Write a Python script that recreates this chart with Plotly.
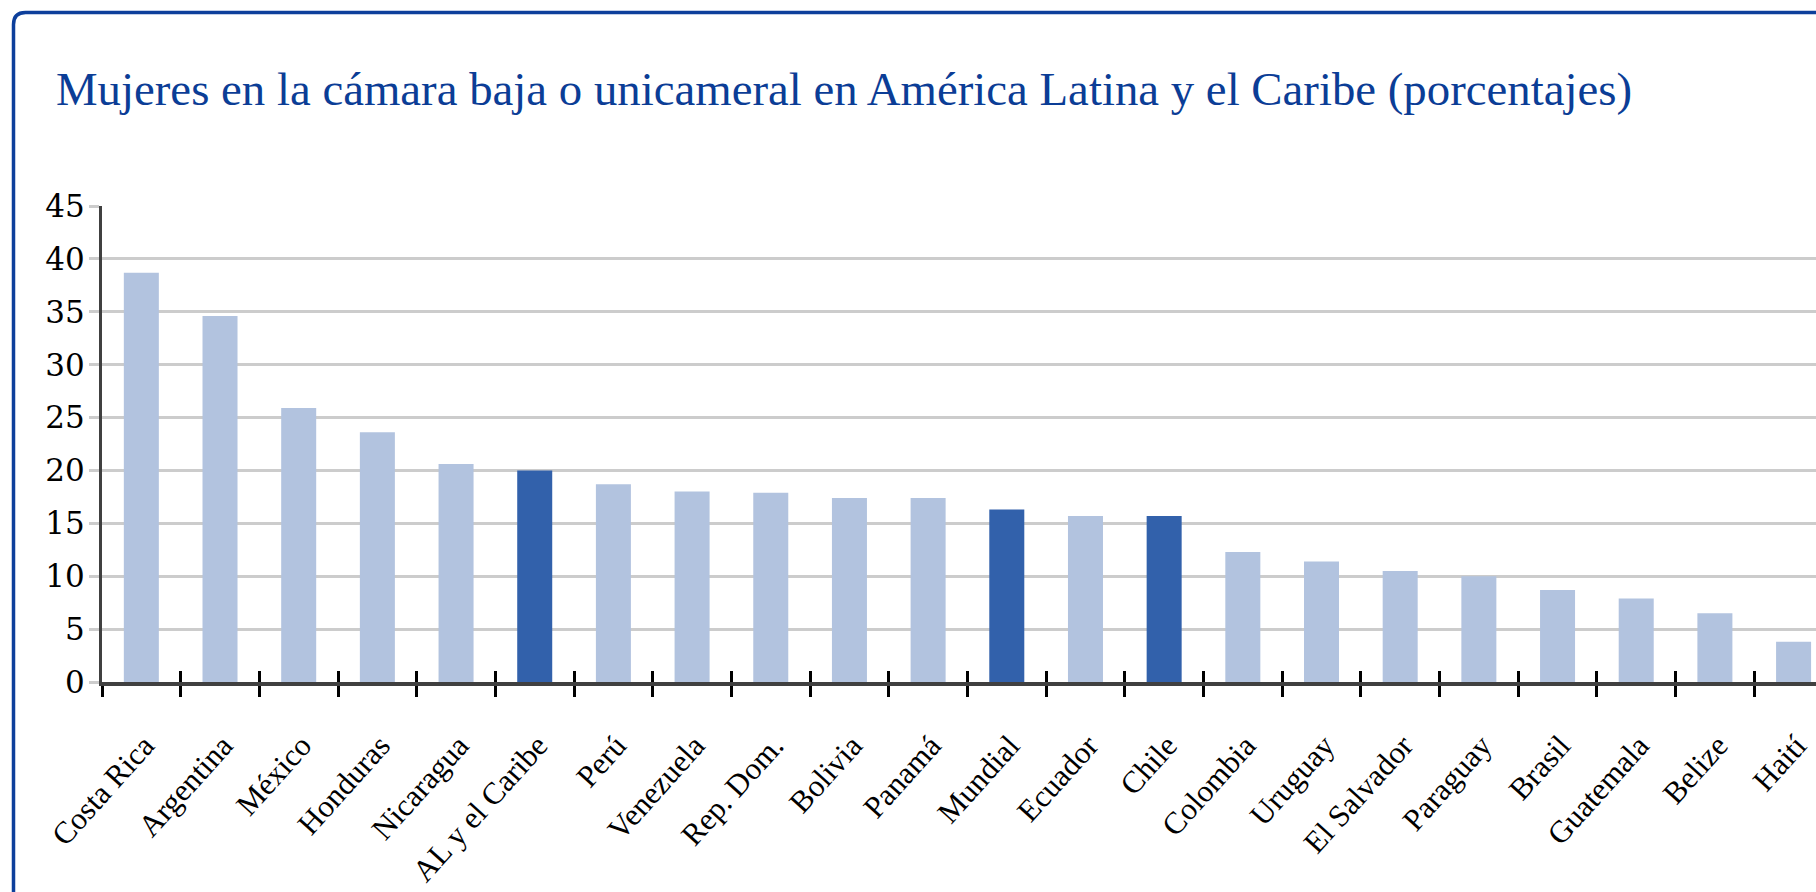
import plotly.graph_objects as go

categories = ["Costa Rica", "Argentina", "México", "Honduras", "Nicaragua", "AL y el Caribe",
              "Perú", "Venezuela", "Rep. Dom.", "Bolivia", "Panamá", "Mundial", "Ecuador",
              "Chile", "Colombia", "Uruguay", "El Salvador", "Paraguay", "Brasil",
              "Guatemala", "Belize", "Haití"]
values = [38.7, 34.6, 25.9, 23.6, 20.6, 20.0, 18.7, 18.0, 17.9, 17.4, 17.4, 16.3, 15.7,
          15.7, 12.3, 11.4, 10.5, 10.0, 8.7, 7.9, 6.5, 3.8]
highlight = ["AL y el Caribe", "Mundial", "Chile"]
y_ticks = [0, 5, 10, 15, 20, 25, 30, 35, 40, 45]
title_text = "Mujeres en la cámara baja o unicameral en América Latina y el Caribe (porcentajes)"

LIGHT = "#b2c3df"
DARK = "#3261ab"
colors = [DARK if c in highlight else LIGHT for c in categories]

W, H = 1816, 892
L, R, T, B = 102, 0, 206, 210
PW, PH = W - L - R, H - T - B

def px_x(p):
    return (p - L) / PW

def px_y(p):
    return (H - B - p) / PH

fig = go.Figure()
fig.add_trace(go.Bar(x=categories, y=values, marker=dict(color=colors, line=dict(width=0)),
                     xaxis="x", yaxis="y", hoverinfo="x+y"))
# invisible helper so the overlay axis knows the categories (draws the upper half of the ticks)
fig.add_trace(go.Scatter(x=categories, y=values, mode="markers", marker=dict(opacity=0),
                         xaxis="x2", yaxis="y", hoverinfo="skip", showlegend=False))

xr = [-0.5, 21.285]
fig.update_layout(
    template="none",
    width=W, height=H,
    margin=dict(l=L, r=R, t=T, b=B, autoexpand=False),
    paper_bgcolor="white", plot_bgcolor="white",
    showlegend=False,
    bargap=0.555,
    xaxis=dict(type="category", categoryorder="array", categoryarray=categories,
               range=xr, showgrid=False, zeroline=False, automargin=False,
               showline=True, linecolor="#404040", linewidth=4,
               ticks="outside", tickson="boundaries", ticklen=11, tickwidth=3, tickcolor="#000000",
               tickangle=-48, ticklabelstandoff=29, ticklabelshift=3,
               tickfont=dict(family="Liberation Serif", size=31, color="#000000")),
    xaxis2=dict(type="category", categoryorder="array", categoryarray=categories,
                range=xr, overlaying="x", anchor="y", side="bottom", automargin=False,
                showgrid=False, zeroline=False, showline=False,
                ticks="inside", tickson="boundaries", ticklen=11, tickwidth=3, tickcolor="#000000",
                showticklabels=False),
    yaxis=dict(range=[0, 45], tickvals=y_ticks, showgrid=True, gridcolor="#cccccc", gridwidth=3,
               zeroline=False, showline=True, linecolor="#404040", linewidth=3, automargin=False,
               ticks="outside", ticklen=10, tickwidth=3, tickcolor="#cccccc",
               ticklabelstandoff=-2,
               tickfont=dict(family="DejaVu Serif", size=31, color="#000000")),
    annotations=[dict(text=title_text, xref="paper", yref="paper",
                      x=px_x(54), y=px_y(89.5), xanchor="left", yanchor="middle",
                      showarrow=False,
                      font=dict(family="Liberation Serif", size=46.8, color="#0b3d96"))],
)

# rounded frame (top-left corner visible, continues off the page)
x0, y0, r = 13.5, 12.5, 12
path = (f"M {px_x(x0)} {px_y(H + 20)} L {px_x(x0)} {px_y(y0 + r)} "
        f"Q {px_x(x0)} {px_y(y0)} {px_x(x0 + r)} {px_y(y0)} L {px_x(W + 20)} {px_y(y0)}")
fig.add_shape(type="path", path=path, xref="paper", yref="paper",
              line=dict(color="#0d3f9b", width=3.5), layer="above")

fig.write_html("out.html", config={"displayModeBar": False},
               post_script="document.body.style.margin='0';document.body.style.overflow='hidden';")
